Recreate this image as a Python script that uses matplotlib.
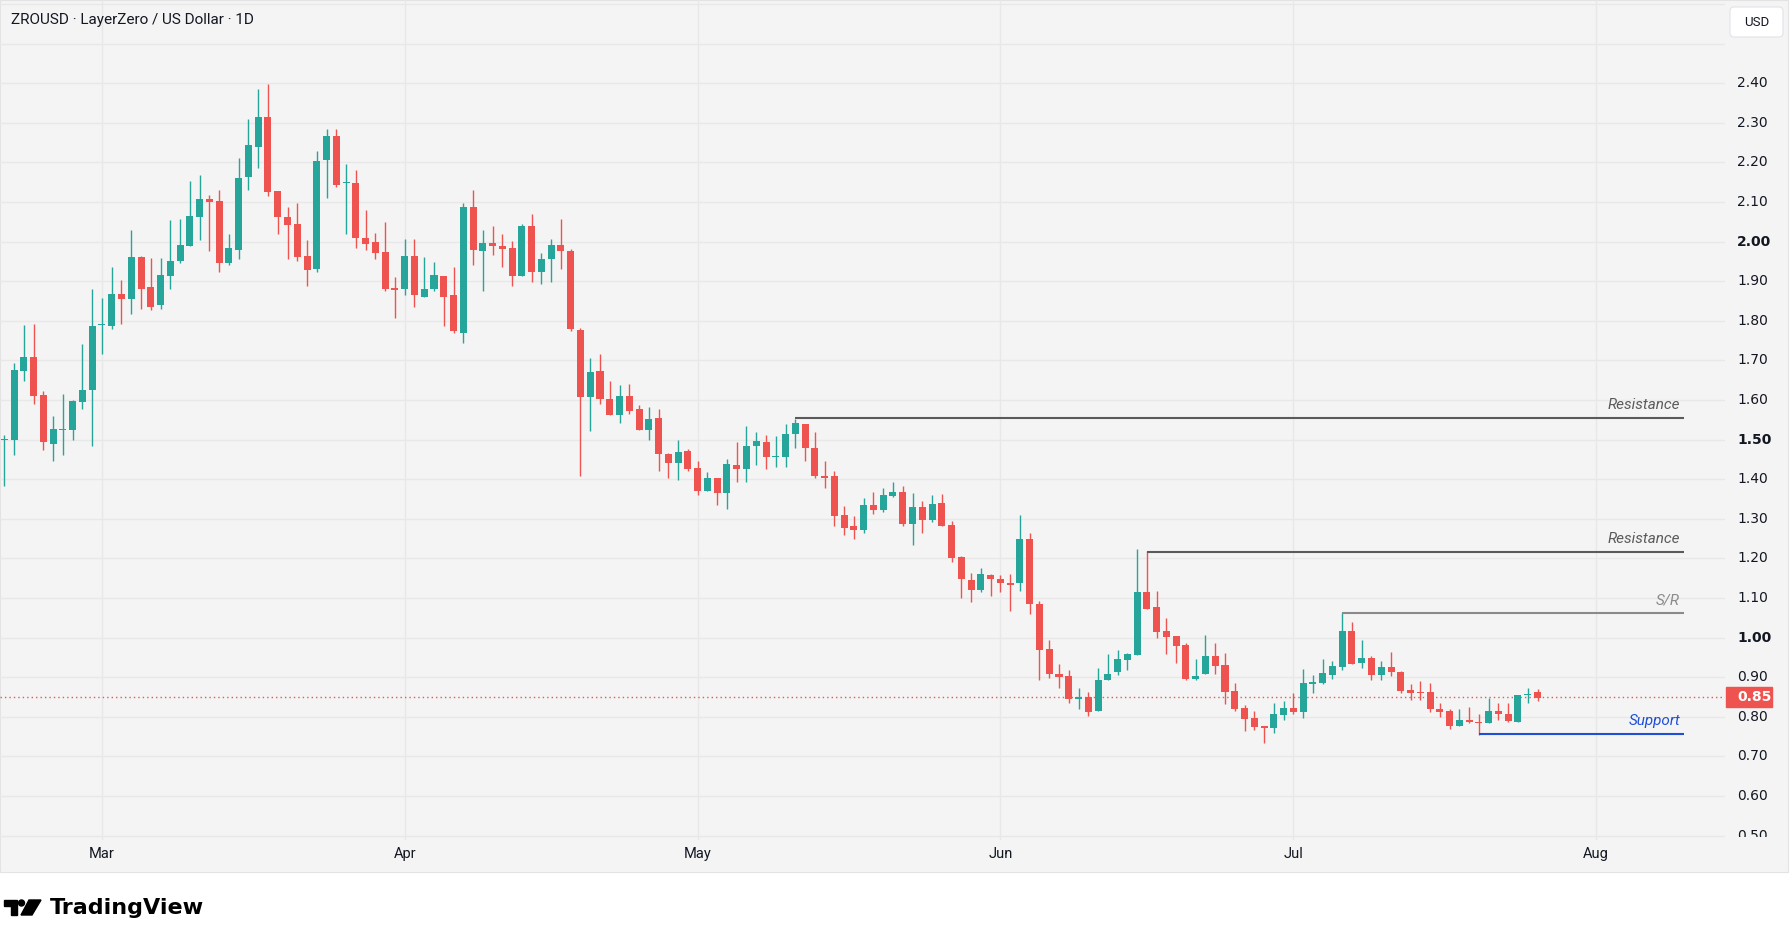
import matplotlib
matplotlib.use("Agg")
import matplotlib.pyplot as plt
import matplotlib.dates as mdates
import matplotlib.transforms as mtransforms
from matplotlib.patches import Rectangle, FancyBboxPatch, Polygon, Circle
import numpy as np
import pandas as pd

plt.rcParams['font.family'] = ['Roboto', 'DejaVu Sans']

# ZROUSD daily candles, first one on 19 Feb
start_day = "2025-02-19"
opens = [1.499, 1.500, 1.674, 1.709, 1.613, 1.490, 1.525, 1.523, 1.596, 1.624,
         1.790, 1.788, 1.868, 1.856, 1.961, 1.885, 1.839, 1.914, 1.950, 1.990,
         2.063, 2.108, 2.103, 1.947, 1.980, 2.162, 2.240, 2.315, 2.128, 2.062,
         2.045, 1.964, 1.931, 2.207, 2.267, 2.148, 2.148, 2.009, 1.999, 1.974,
         1.883, 1.881, 1.964, 1.861, 1.881, 1.913, 1.865, 1.770, 2.088, 1.977,
         1.997, 1.989, 1.984, 1.914, 2.040, 1.924, 1.957, 1.992, 1.977, 1.778,
         1.607, 1.674, 1.603, 1.561, 1.611, 1.578, 1.523, 1.555, 1.464, 1.440,
         1.472, 1.429, 1.369, 1.404, 1.364, 1.436, 1.425, 1.483, 1.495, 1.457,
         1.457, 1.513, 1.540, 1.479, 1.409, 1.409, 1.310, 1.281, 1.273, 1.335,
         1.323, 1.358, 1.368, 1.286, 1.330, 1.296, 1.340, 1.285, 1.204, 1.146,
         1.119, 1.159, 1.149, 1.138, 1.139, 1.249, 1.085, 0.972, 0.909, 0.904,
         0.844, 0.849, 0.814, 0.892, 0.912, 0.944, 0.957, 1.115, 1.077, 1.017,
         1.004, 0.981, 0.895, 0.908, 0.953, 0.931, 0.865, 0.822, 0.797, 0.777,
         0.772, 0.804, 0.822, 0.812, 0.883, 0.885, 0.905, 0.926, 1.017, 0.936,
         0.948, 0.905, 0.926, 0.913, 0.867, 0.862, 0.862, 0.821, 0.814, 0.776,
         0.793, 0.786, 0.784, 0.814, 0.806, 0.786, 0.854, 0.862]
highs = [1.511, 1.694, 1.790, 1.792, 1.623, 1.560, 1.616, 1.600, 1.742, 1.881,
         1.858, 1.936, 1.903, 2.030, 1.964, 1.959, 1.959, 2.055, 2.057, 2.153,
         2.169, 2.118, 2.131, 2.020, 2.211, 2.310, 2.386, 2.398, 2.128, 2.088,
         2.098, 2.004, 2.229, 2.285, 2.285, 2.196, 2.181, 2.080, 2.022, 2.050,
         1.911, 2.007, 2.007, 1.961, 1.949, 1.913, 1.936, 2.098, 2.131, 2.030,
         2.040, 2.020, 2.002, 2.045, 2.070, 1.972, 2.007, 2.057, 1.982, 1.783,
         1.707, 1.717, 1.649, 1.639, 1.641, 1.588, 1.583, 1.578, 1.467, 1.500,
         1.477, 1.447, 1.419, 1.404, 1.452, 1.495, 1.535, 1.520, 1.512, 1.510,
         1.540, 1.553, 1.540, 1.520, 1.445, 1.421, 1.333, 1.306, 1.353, 1.368,
         1.378, 1.393, 1.383, 1.366, 1.345, 1.360, 1.363, 1.295, 1.207, 1.164,
         1.176, 1.161, 1.159, 1.161, 1.310, 1.265, 1.093, 0.995, 0.934, 0.919,
         0.874, 0.862, 0.924, 0.959, 0.969, 0.962, 1.224, 1.218, 1.118, 1.049,
         1.004, 0.986, 0.946, 1.006, 0.986, 0.961, 0.885, 0.830, 0.814, 0.777,
         0.835, 0.840, 0.860, 0.921, 0.905, 0.946, 0.941, 1.062, 1.039, 0.994,
         0.953, 0.941, 0.963, 0.916, 0.884, 0.890, 0.885, 0.834, 0.821, 0.821,
         0.824, 0.808, 0.848, 0.836, 0.834, 0.854, 0.872, 0.870]
lows = [1.383, 1.461, 1.648, 1.591, 1.474, 1.447, 1.461, 1.498, 1.578, 1.485,
        1.717, 1.779, 1.793, 1.818, 1.831, 1.826, 1.831, 1.881, 1.947, 1.990,
        2.005, 1.975, 1.924, 1.942, 1.957, 2.129, 2.187, 2.116, 2.018, 1.955,
        1.952, 1.888, 1.922, 2.109, 2.139, 2.020, 1.985, 1.980, 1.957, 1.876,
        1.808, 1.864, 1.836, 1.861, 1.874, 1.786, 1.770, 1.743, 1.940, 1.874,
        1.965, 1.935, 1.889, 1.912, 1.897, 1.892, 1.897, 1.932, 1.773, 1.409,
        1.521, 1.589, 1.561, 1.541, 1.564, 1.523, 1.498, 1.420, 1.402, 1.399,
        1.420, 1.361, 1.369, 1.334, 1.324, 1.392, 1.392, 1.437, 1.425, 1.430,
        1.432, 1.478, 1.445, 1.404, 1.379, 1.281, 1.260, 1.250, 1.263, 1.313,
        1.318, 1.355, 1.281, 1.235, 1.265, 1.293, 1.283, 1.192, 1.101, 1.091,
        1.114, 1.106, 1.114, 1.066, 1.117, 1.059, 0.892, 0.897, 0.872, 0.836,
        0.819, 0.801, 0.814, 0.892, 0.905, 0.917, 0.957, 1.072, 0.999, 0.958,
        0.936, 0.893, 0.893, 0.908, 0.908, 0.832, 0.814, 0.764, 0.766, 0.734,
        0.759, 0.792, 0.807, 0.797, 0.860, 0.883, 0.895, 0.918, 0.933, 0.923,
        0.893, 0.893, 0.903, 0.860, 0.842, 0.842, 0.812, 0.800, 0.769, 0.776,
        0.784, 0.754, 0.784, 0.792, 0.786, 0.786, 0.834, 0.839]
closes = [1.502, 1.676, 1.709, 1.611, 1.493, 1.527, 1.527, 1.598, 1.626, 1.787,
          1.792, 1.868, 1.856, 1.961, 1.881, 1.836, 1.916, 1.951, 1.992, 2.065,
          2.108, 2.101, 1.947, 1.984, 2.161, 2.244, 2.315, 2.126, 2.061, 2.041,
          1.962, 1.929, 2.204, 2.267, 2.143, 2.150, 2.008, 1.995, 1.970, 1.881,
          1.879, 1.964, 1.864, 1.881, 1.916, 1.859, 1.773, 2.088, 1.980, 1.997,
          1.988, 1.982, 1.914, 2.040, 1.924, 1.956, 1.992, 1.977, 1.780, 1.607,
          1.671, 1.602, 1.561, 1.611, 1.571, 1.523, 1.553, 1.463, 1.440, 1.469,
          1.427, 1.369, 1.404, 1.366, 1.439, 1.425, 1.484, 1.497, 1.455, 1.459,
          1.515, 1.543, 1.478, 1.407, 1.404, 1.308, 1.278, 1.272, 1.335, 1.323,
          1.360, 1.368, 1.286, 1.330, 1.296, 1.338, 1.283, 1.200, 1.147, 1.119,
          1.161, 1.147, 1.137, 1.132, 1.249, 1.084, 0.970, 0.907, 0.900, 0.844,
          0.849, 0.811, 0.894, 0.909, 0.947, 0.959, 1.116, 1.072, 1.014, 1.001,
          0.979, 0.895, 0.903, 0.953, 0.928, 0.862, 0.820, 0.794, 0.774, 0.772,
          0.807, 0.822, 0.812, 0.885, 0.888, 0.910, 0.928, 1.017, 0.933, 0.948,
          0.905, 0.926, 0.913, 0.865, 0.861, 0.860, 0.819, 0.812, 0.776, 0.793,
          0.786, 0.785, 0.814, 0.806, 0.789, 0.854, 0.857, 0.847]

last_price = 0.85
price_labels = ["0.50", "0.60", "0.70", "0.80", "0.90", "1.00", "1.10", "1.20",
                "1.30", "1.40", "1.50", "1.60", "1.70", "1.80", "1.90", "2.00",
                "2.10", "2.20", "2.30", "2.40"]
bold_labels = ["1.00", "1.50", "2.00"]
grid_levels = price_labels + ["2.50", "2.60"]
month_starts = ["2025-03-01", "2025-04-01", "2025-05-01", "2025-06-01",
                "2025-07-01", "2025-08-01"]
month_labels = ["Mar", "Apr", "May", "Jun", "Jul", "Aug"]

# drawn levels
level_names = ["Resistance", "Resistance", "S/R", "Support"]
level_prices = [1.555, 1.215, 1.062, 0.756]
level_starts = ["2025-05-11", "2025-06-16", "2025-07-06", "2025-07-20"]
level_end = "2025-08-10"
level_colors = ["#5a5a5a", "#5a5a5a", "#8a8a8a", "#1f4fd6"]

GREEN = "#26a69a"
RED = "#ef5350"
TXT = "#131722"
BG = "#f4f4f4"

W, H = 1791, 947
fig = plt.figure(figsize=(W / 100, H / 100), dpi=100)
fig.patch.set_facecolor("white")

# pixel-space background layer
bg = fig.add_axes([0, 0, 1, 1], zorder=0)
bg.set_xlim(0, W)
bg.set_ylim(H, 0)
bg.axis("off")
bg.add_patch(Rectangle((0, 0), 1788, 872, facecolor=BG, edgecolor="#e3e3e3", lw=0.8))

# TradingView logo
bg.add_patch(Polygon([(4, 900), (17, 900), (17, 915), (11, 915), (11, 906), (4, 906)],
                     closed=True, color="black"))
bg.add_patch(Circle((21.5, 903), 3.0, color="black"))
bg.add_patch(Polygon([(29, 900), (41, 900), (32, 915), (21, 915)], closed=True, color="black"))
bg.text(50, 908, "TradingView", fontsize=16, fontweight="bold", color="black",
        va="center", ha="left", family="DejaVu Sans")

ax = fig.add_axes([0, 1 - 840 / H, 1725 / W, 840 / H], zorder=1)
ax.set_facecolor("none")
for s in ax.spines.values():
    s.set_visible(False)

x = mdates.date2num(pd.date_range(start_day, periods=len(opens), freq="D"))
o, h, l, c = (np.array(v) for v in (opens, highs, lows, closes))
col = np.where(c >= o, GREEN, RED)
body_lo = np.minimum(o, c)
body_h = np.maximum(np.abs(c - o), 0.0028)

ax.vlines(x, l, h, colors=col, lw=1.0, zorder=3)
ax.bar(x, body_h, bottom=body_lo, width=0.72, color=col, lw=0, zorder=4)

left = x[0] - 0.44
right = mdates.date2num(pd.Timestamp("2025-08-01")) + 13.2
ax.set_xlim(left, right)
ax.set_ylim(0.489, 2.610)

ax.set_yticks([float(v) for v in grid_levels])
ax.tick_params(axis="y", length=0, labelleft=False)
ax.set_xticks(mdates.date2num(pd.to_datetime(month_starts)))
ax.set_xticklabels(month_labels)
ax.tick_params(axis="x", length=0, pad=5, labelsize=10.5, labelcolor=TXT)
ax.grid(True, color="#e8e8e8", lw=1, zorder=0)

# last price dotted line
ax.axhline(last_price, color=RED, lw=1, ls=(0, (1, 2.2)), zorder=2)

# support / resistance levels
xe = mdates.date2num(pd.Timestamp(level_end))
for name, p, st, cl in zip(level_names, level_prices, level_starts, level_colors):
    xs = mdates.date2num(pd.Timestamp(st))
    ax.hlines(p, xs, xe, color=cl, lw=1.5, zorder=5)
    ax.annotate(name, xy=(xe, p), xytext=(-4, 9), textcoords="offset pixels",
                ha="right", va="baseline", fontsize=11, fontstyle="italic", color=cl)

# price scale (pane ends a little above the time axis, so 0.50 is cut)
pax = fig.add_axes([1725 / W, 1 - 837 / H, 63 / W, 837 / H], zorder=2)
pax.set_ylim(2.40 - (837 - 83.3) / 396, 2.610)
pax.set_xlim(0, 1)
pax.axis("off")
tr = mtransforms.blended_transform_factory(pax.transAxes, pax.transData)
for s in price_labels:
    pax.text(0.19, float(s), s, transform=tr, ha="left", va="center", fontsize=10,
             color=TXT, family="DejaVu Sans",
             fontweight="bold" if s in bold_labels else "normal", clip_on=True)
pax.add_patch(Rectangle((1 / 63, last_price - 0.0253), 46 / 63, 0.0506, transform=tr,
                        color=RED, zorder=5))
pax.text(0.19, last_price, f"{last_price:.2f}", transform=tr, ha="left", va="center",
         fontsize=10, fontweight="bold", color="white", family="DejaVu Sans", zorder=6)

# header and currency box
top = fig.add_axes([0, 0, 1, 1], zorder=3)
top.set_xlim(0, W)
top.set_ylim(H, 0)
top.axis("off")
top.set_facecolor("none")
top.text(11, 20, "ZROUSD · LayerZero / US Dollar · 1D", fontsize=11, color=TXT,
         va="center", ha="left")
top.add_patch(FancyBboxPatch((1730, 7), 53, 30, boxstyle="round,pad=0,rounding_size=4",
                             facecolor="white", edgecolor="#e0e3eb", lw=0.8))
top.text(1756.5, 22, "USD", fontsize=9.5, color=TXT, ha="center", va="center")

fig.savefig("out.png", dpi=100)
